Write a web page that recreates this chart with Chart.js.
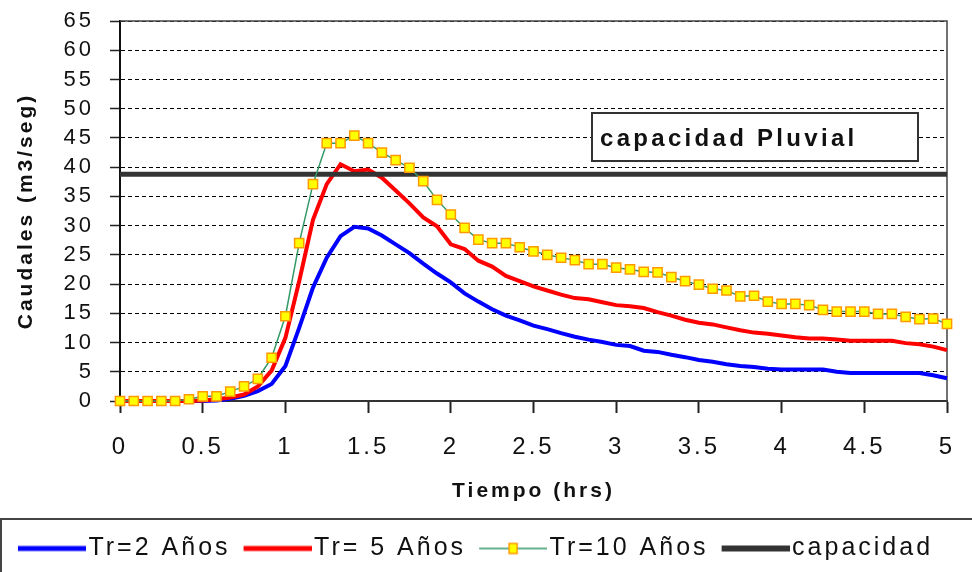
<!DOCTYPE html>
<html>
<head>
<meta charset="utf-8">
<script src="https://cdn.jsdelivr.net/npm/chart.js@4.4.1/dist/chart.umd.min.js"></script>
<style>
  body { margin: 0; background: #fff; }
  canvas { display: block; }
</style>
</head>
<body>
<canvas id="hidrograma" width="972" height="572"></canvas>
<script>
// tiempo en minutos, cada 5 min
const minutos = [0, 5, 10, 15, 20, 25, 30, 35, 40, 45, 50, 55, 60, 65, 70, 75, 80, 85, 90, 95,
    100, 105, 110, 115, 120, 125, 130, 135, 140, 145, 150, 155, 160, 165, 170, 175, 180, 185, 190, 195,
    200, 205, 210, 215, 220, 225, 230, 235, 240, 245, 250, 255, 260, 265, 270, 275, 280, 285, 290, 295, 300];

const tr2 = [0, 0, 0, 0, 0, 0, 0, 0.1, 0.4, 0.9, 1.7, 2.9, 6.0, 12.5, 19.4, 24.5, 28.2, 29.8, 29.5, 28.3,
    26.8, 25.3, 23.5, 21.8, 20.3, 18.4, 17.0, 15.7, 14.6, 13.8, 12.9, 12.3, 11.6, 11.0, 10.5, 10.1, 9.6, 9.4, 8.6, 8.4,
    7.9, 7.5, 7.0, 6.7, 6.3, 6.0, 5.8, 5.5, 5.4, 5.4, 5.4, 5.4, 5.0, 4.8, 4.8, 4.8, 4.8, 4.8, 4.8, 4.4, 3.9];

const tr5 = [0, 0, 0, 0, 0, 0, 0.1, 0.3, 0.6, 1.1, 2.5, 5.2, 10.8, 20.5, 31.0, 37.1, 40.5, 39.3, 39.6, 38.2,
    36.0, 33.8, 31.4, 29.9, 26.8, 26.0, 24.0, 23.0, 21.4, 20.5, 19.6, 18.9, 18.2, 17.6, 17.4, 16.9, 16.4, 16.2, 15.9, 15.2,
    14.6, 13.9, 13.4, 13.1, 12.6, 12.1, 11.7, 11.5, 11.2, 10.9, 10.7, 10.7, 10.5, 10.3, 10.3, 10.3, 10.3, 9.9, 9.7, 9.3, 8.7];

const tr10 = [0, 0, 0, 0, 0, 0.3, 0.8, 0.8, 1.6, 2.5, 3.8, 7.4, 14.5, 27.0, 37.1, 44.1, 44.1, 45.4, 44.1, 42.5,
    41.2, 39.9, 37.6, 34.4, 31.9, 29.6, 27.6, 27.0, 27.0, 26.3, 25.6, 25.0, 24.5, 24.1, 23.4, 23.4, 22.8, 22.5, 22.1, 22.0,
    21.2, 20.5, 19.9, 19.2, 18.9, 17.9, 18.0, 17.0, 16.6, 16.6, 16.4, 15.6, 15.3, 15.3, 15.3, 14.9, 14.9, 14.4, 14.0, 14.1, 13.2];

const capacidad = 38.8;
const etiquetas = ['Tr=2 Años', 'Tr= 5 Años', 'Tr=10 Años', 'capacidad'];

const fuente = 'Liberation Sans, Arial, sans-serif';

function serie(valores) {
    return valores.map((v, i) => ({ x: minutos[i] / 60, y: v }));
}

// muestras de linea para la leyenda (82px, centrado sobre los 62 de pointStyleWidth)
function muestra(color, grosor, marcador) {
    const c = document.createElement('canvas');
    c.width = 82;
    c.height = 14;
    const g = c.getContext('2d');
    g.strokeStyle = color;
    g.lineWidth = grosor;
    g.beginPath();
    g.moveTo(14, 7);
    g.lineTo(82, 7);
    g.stroke();
    if (marcador) {
        g.fillStyle = '#ffff00';
        g.strokeStyle = '#ff9900';
        g.lineWidth = 1.5;
        g.fillRect(44, 2, 8, 10);
        g.strokeRect(44, 2, 8, 10);
    }
    return c;
}
const muestras = [
    muestra('#0000ff', 5, false),
    muestra('#ff0000', 5, false),
    muestra('#339966', 1.5, true),
    muestra('#333333', 6, false)
];

const espaciado = {
    id: 'espaciado',
    beforeLayout(chart) { chart.ctx.letterSpacing = '3px'; },
    beforeDraw(chart) { chart.ctx.letterSpacing = '3px'; }
};

const marcos = {
    id: 'marcos',
    beforeDatasetsDraw(chart) {
        const { ctx, chartArea } = chart;
        ctx.save();
        ctx.strokeStyle = '#444';
        ctx.lineWidth = 1.5;
        ctx.beginPath();
        ctx.moveTo(chartArea.left, chartArea.top);
        ctx.lineTo(chartArea.right, chartArea.top);
        ctx.lineTo(chartArea.right, chartArea.bottom);
        ctx.stroke();
        ctx.restore();
    },
    afterDatasetsDraw(chart) {
        const { ctx } = chart;
        ctx.save();
        // cuadro de texto
        ctx.fillStyle = '#fff';
        ctx.fillRect(592, 113, 326, 48);
        ctx.strokeStyle = '#333';
        ctx.lineWidth = 2;
        ctx.strokeRect(592, 113, 326, 48);
        ctx.fillStyle = '#111';
        ctx.font = 'bold 24px ' + fuente;
        ctx.letterSpacing = '3.3px';
        ctx.textBaseline = 'middle';
        ctx.textAlign = 'left';
        ctx.fillText('capacidad Pluvial', 600, 139);
        // marco de la leyenda
        ctx.strokeStyle = '#444';
        ctx.lineWidth = 2;
        ctx.strokeRect(1, 519, 990, 80);
        ctx.restore();
    }
};

const ctx = document.getElementById('hidrograma').getContext('2d');
const grafico = new Chart(ctx, {
    type: 'line',
    data: {
        datasets: [{
            label: etiquetas[0],
            data: serie(tr2),
            borderColor: '#0000ff',
            backgroundColor: '#0000ff',
            borderWidth: 4,
            pointRadius: 0,
            order: 4,
            clip: false
        }, {
            label: etiquetas[1],
            data: serie(tr5),
            borderColor: '#ff0000',
            backgroundColor: '#ff0000',
            borderWidth: 4,
            pointRadius: 0,
            order: 3,
            clip: false
        }, {
            label: etiquetas[2],
            data: serie(tr10),
            borderColor: '#339966',
            backgroundColor: '#ffff00',
            borderWidth: 1.5,
            pointStyle: 'rect',
            pointRadius: 6.5,
            pointBackgroundColor: '#ffff00',
            pointBorderColor: '#ff9900',
            pointBorderWidth: 1.5,
            order: 1,
            clip: false
        }, {
            label: etiquetas[3],
            data: minutos.map(m => ({ x: m / 60, y: capacidad })),
            borderColor: '#333333',
            backgroundColor: '#333333',
            borderWidth: 5,
            pointRadius: 0,
            order: 2,
            clip: false
        }]
    },
    options: {
        responsive: false,
        animation: false,
        events: [],
        layout: {
            autoPadding: false,
            padding: { top: 21, right: 25, bottom: 1, left: 0 }
        },
        scales: {
            x: {
                type: 'linear',
                min: 0,
                max: 5,
                afterFit: s => { s.height = 126; s.paddingLeft = 0; s.paddingRight = 0; },
                ticks: {
                    stepSize: 0.5,
                    padding: 20,
                    maxRotation: 0,
                    autoSkip: false,
                    color: '#111',
                    font: { family: fuente, size: 24 },
                    callback: v => String(v)
                },
                grid: {
                    drawOnChartArea: false,
                    drawTicks: true,
                    tickLength: 12,
                    tickColor: '#222',
                    tickWidth: 2
                },
                border: { color: '#333', width: 2 },
                title: {
                    display: true,
                    text: 'Tiempo (hrs)',
                    color: '#111',
                    font: { family: fuente, size: 21, weight: 'bold' },
                    padding: { bottom: 23 }
                }
            },
            y: {
                min: 0,
                max: 65,
                afterFit: s => { s.width = 120; s.paddingTop = 0; s.paddingBottom = 0; },
                ticks: {
                    stepSize: 5,
                    padding: 16,
                    autoSkip: false,
                    color: '#111',
                    font: { family: fuente, size: 22 }
                },
                grid: {
                    color: '#000',
                    lineWidth: 1,
                    tickLength: 10,
                    tickColor: '#222',
                    tickWidth: 1.5,
                    tickBorderDash: []
                },
                border: { color: '#111', width: 2, dash: [4, 3] },
                title: {
                    display: true,
                    text: 'Caudales (m3/seg)',
                    color: '#111',
                    font: { family: fuente, size: 21, weight: 'bold' },
                    padding: { top: 14 }
                }
            }
        },
        plugins: {
            tooltip: { enabled: false },
            legend: {
                position: 'bottom',
                labels: {
                    color: '#111',
                    font: { family: fuente, size: 25 },
                    usePointStyle: true,
                    pointStyleWidth: 62,
                    padding: 9,
                    generateLabels: chart => {
                        const items = Chart.defaults.plugins.legend.labels.generateLabels(chart);
                        items.sort((a, b) => a.datasetIndex - b.datasetIndex);
                        items.forEach(it => { it.pointStyle = muestras[it.datasetIndex]; });
                        return items;
                    }
                }
            }
        }
    },
    plugins: [espaciado, marcos]
});
</script>
</body>
</html>
